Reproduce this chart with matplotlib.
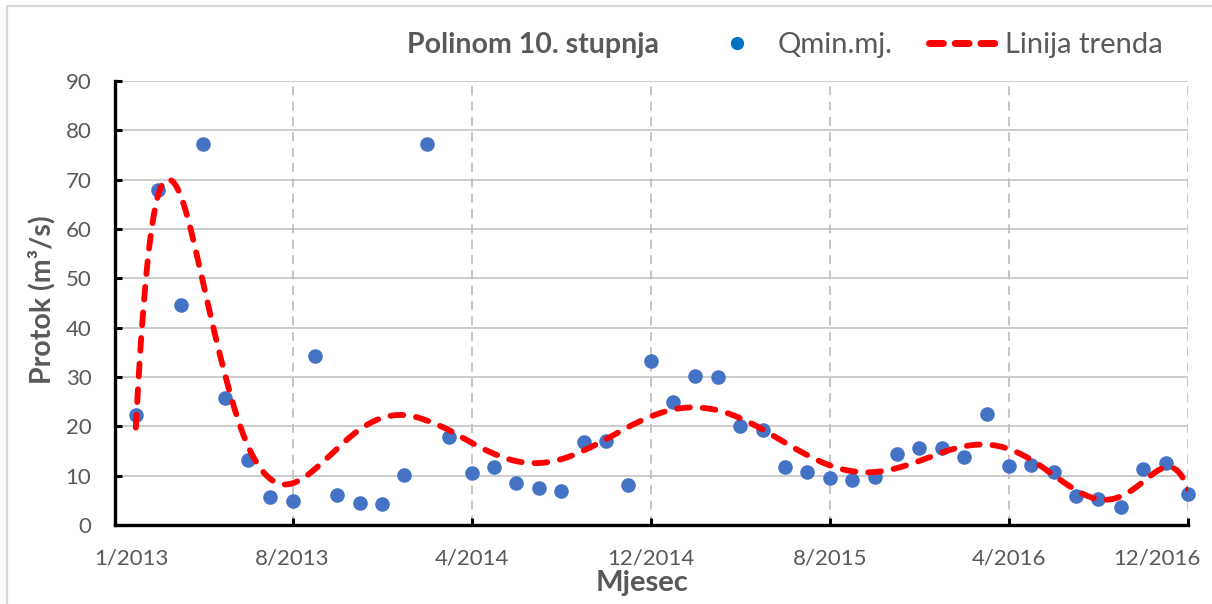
import matplotlib.pyplot as plt
import matplotlib.transforms as mtransforms
from matplotlib.lines import Line2D
from matplotlib.patches import Rectangle
import numpy as np

plt.rcParams['font.family'] = ['Lato', 'DejaVu Sans']

# mjesečni minimalni protoci, 1/2013 - 12/2016
months = np.arange(48)
qmin = [22.3, 67.9, 44.6, 77.3, 25.7, 13.2, 5.7, 4.9, 34.3, 6.1, 4.5, 4.2,
        10.1, 77.3, 17.9, 10.5, 11.8, 8.6, 7.6, 6.8, 16.8, 17.0, 8.2, 33.3,
        25.0, 30.2, 29.9, 20.1, 19.3, 11.7, 10.8, 9.5, 9.1, 9.7, 14.4, 15.7,
        15.7, 13.8, 22.4, 11.9, 12.1, 10.7, 5.9, 5.3, 3.6, 11.4, 12.5, 6.3]
tick_labels = ["1/2013", "8/2013", "4/2014", "12/2014", "8/2015", "4/2016", "12/2016"]
y_ticks = np.arange(0, 100, 10)

grey = '#595959'
x_min = -0.93

# polinomni trend 10. stupnja, računat po danima
days = (np.datetime64('2013-01', 'M') + months).astype('datetime64[D]').astype(float)
d0, d1 = days[0], days[-1]
coef = np.polyfit((days - d0) / (d1 - d0), qmin, 10)
df = np.linspace(d0, d1, 800)
trend = np.polyval(coef, (df - d0) / (d1 - d0))
xf = np.interp(df, days, months)

fig = plt.figure(figsize=(12.12, 6.04), dpi=100)
ax = fig.add_axes([115 / 1212, 1 - 525 / 604, (1188 - 115) / 1212, (525 - 81) / 604])

ax.scatter(months, qmin, s=110, color='#4472C4', zorder=3, clip_on=False, linewidths=0)
ax.plot(xf, trend, color='#FF0000', lw=4.2, linestyle=(0, (2.2, 2.2)),
        dash_capstyle='round', zorder=4)

ax.set_xlim(x_min, 47)
ax.set_ylim(0, 90)

tick_pos = []
for lab in tick_labels:
    m, y = lab.split('/')
    tick_pos.append((int(y) - 2013) * 12 + int(m) - 1)
tick_pos[0] = x_min
ax.set_xticks(tick_pos)
ax.set_xticklabels(tick_labels)
ax.set_yticks(y_ticks)

ax.tick_params(axis='both', direction='in', length=5, width=2.2, color='black',
               labelcolor=grey, labelsize=16)
ax.tick_params(axis='x', pad=17)
ax.tick_params(axis='y', pad=17)

# krajnji natpisi ostaju unutar grafikona
xl = ax.get_xticklabels()
xl[0].set_transform(xl[0].get_transform() + mtransforms.ScaledTranslation(0.16, 0, fig.dpi_scale_trans))
xl[-1].set_transform(xl[-1].get_transform() + mtransforms.ScaledTranslation(-0.31, 0, fig.dpi_scale_trans))

for s in ['top', 'right']:
    ax.spines[s].set_visible(False)
for s in ['left', 'bottom']:
    ax.spines[s].set_linewidth(2.4)
    ax.spines[s].set_zorder(5)

for yv in y_ticks[1:]:
    ax.axhline(yv, color='#C8C8C8', lw=1.3, zorder=1)
for xv in tick_pos[1:]:
    ax.axvline(xv, color='#C0C0C0', lw=1.3, linestyle=(0, (5, 3.5)), zorder=1)

ax.set_ylabel('Protok (m³/s)', fontsize=20.5, fontweight='bold', color=grey)
ax.yaxis.set_label_coords((42 - 115) / 1073, (525 - 300) / 444)
ax.yaxis.label.set_va('center')
ax.set_xlabel('Mjesec', fontsize=21, fontweight='bold', color=grey)
ax.xaxis.set_label_coords((642 - 115) / 1073, (525 - 583) / 444)
ax.xaxis.label.set_va('center')

fig.text(533 / 1212, 1 - 45 / 604, 'Polinom 10. stupnja', fontsize=20.5, fontweight='bold',
         color=grey, ha='center', va='center')

handles = [Line2D([], [], marker='o', color='#0070C0', markersize=8.5, linestyle='none'),
           Line2D([], [], color='#FF0000', lw=5, linestyle=(0, (2.0, 1.7)), dash_capstyle='round')]
fig.legend(handles, ['Qmin.mj.', 'Linija trenda'], loc='center left',
           bbox_to_anchor=(701 / 1212, 1 - 45 / 604), ncol=2, frameon=False,
           fontsize=21, handlelength=2.45, handletextpad=0.17, columnspacing=1.24,
           borderpad=0, borderaxespad=0, labelcolor=grey)

fig.patches.append(Rectangle((7 / 1212, -0.1), 1.2, 1.09, transform=fig.transFigure,
                             fill=False, edgecolor='#D9D9D9', lw=1.6))

fig.savefig('out.png', dpi=100)
